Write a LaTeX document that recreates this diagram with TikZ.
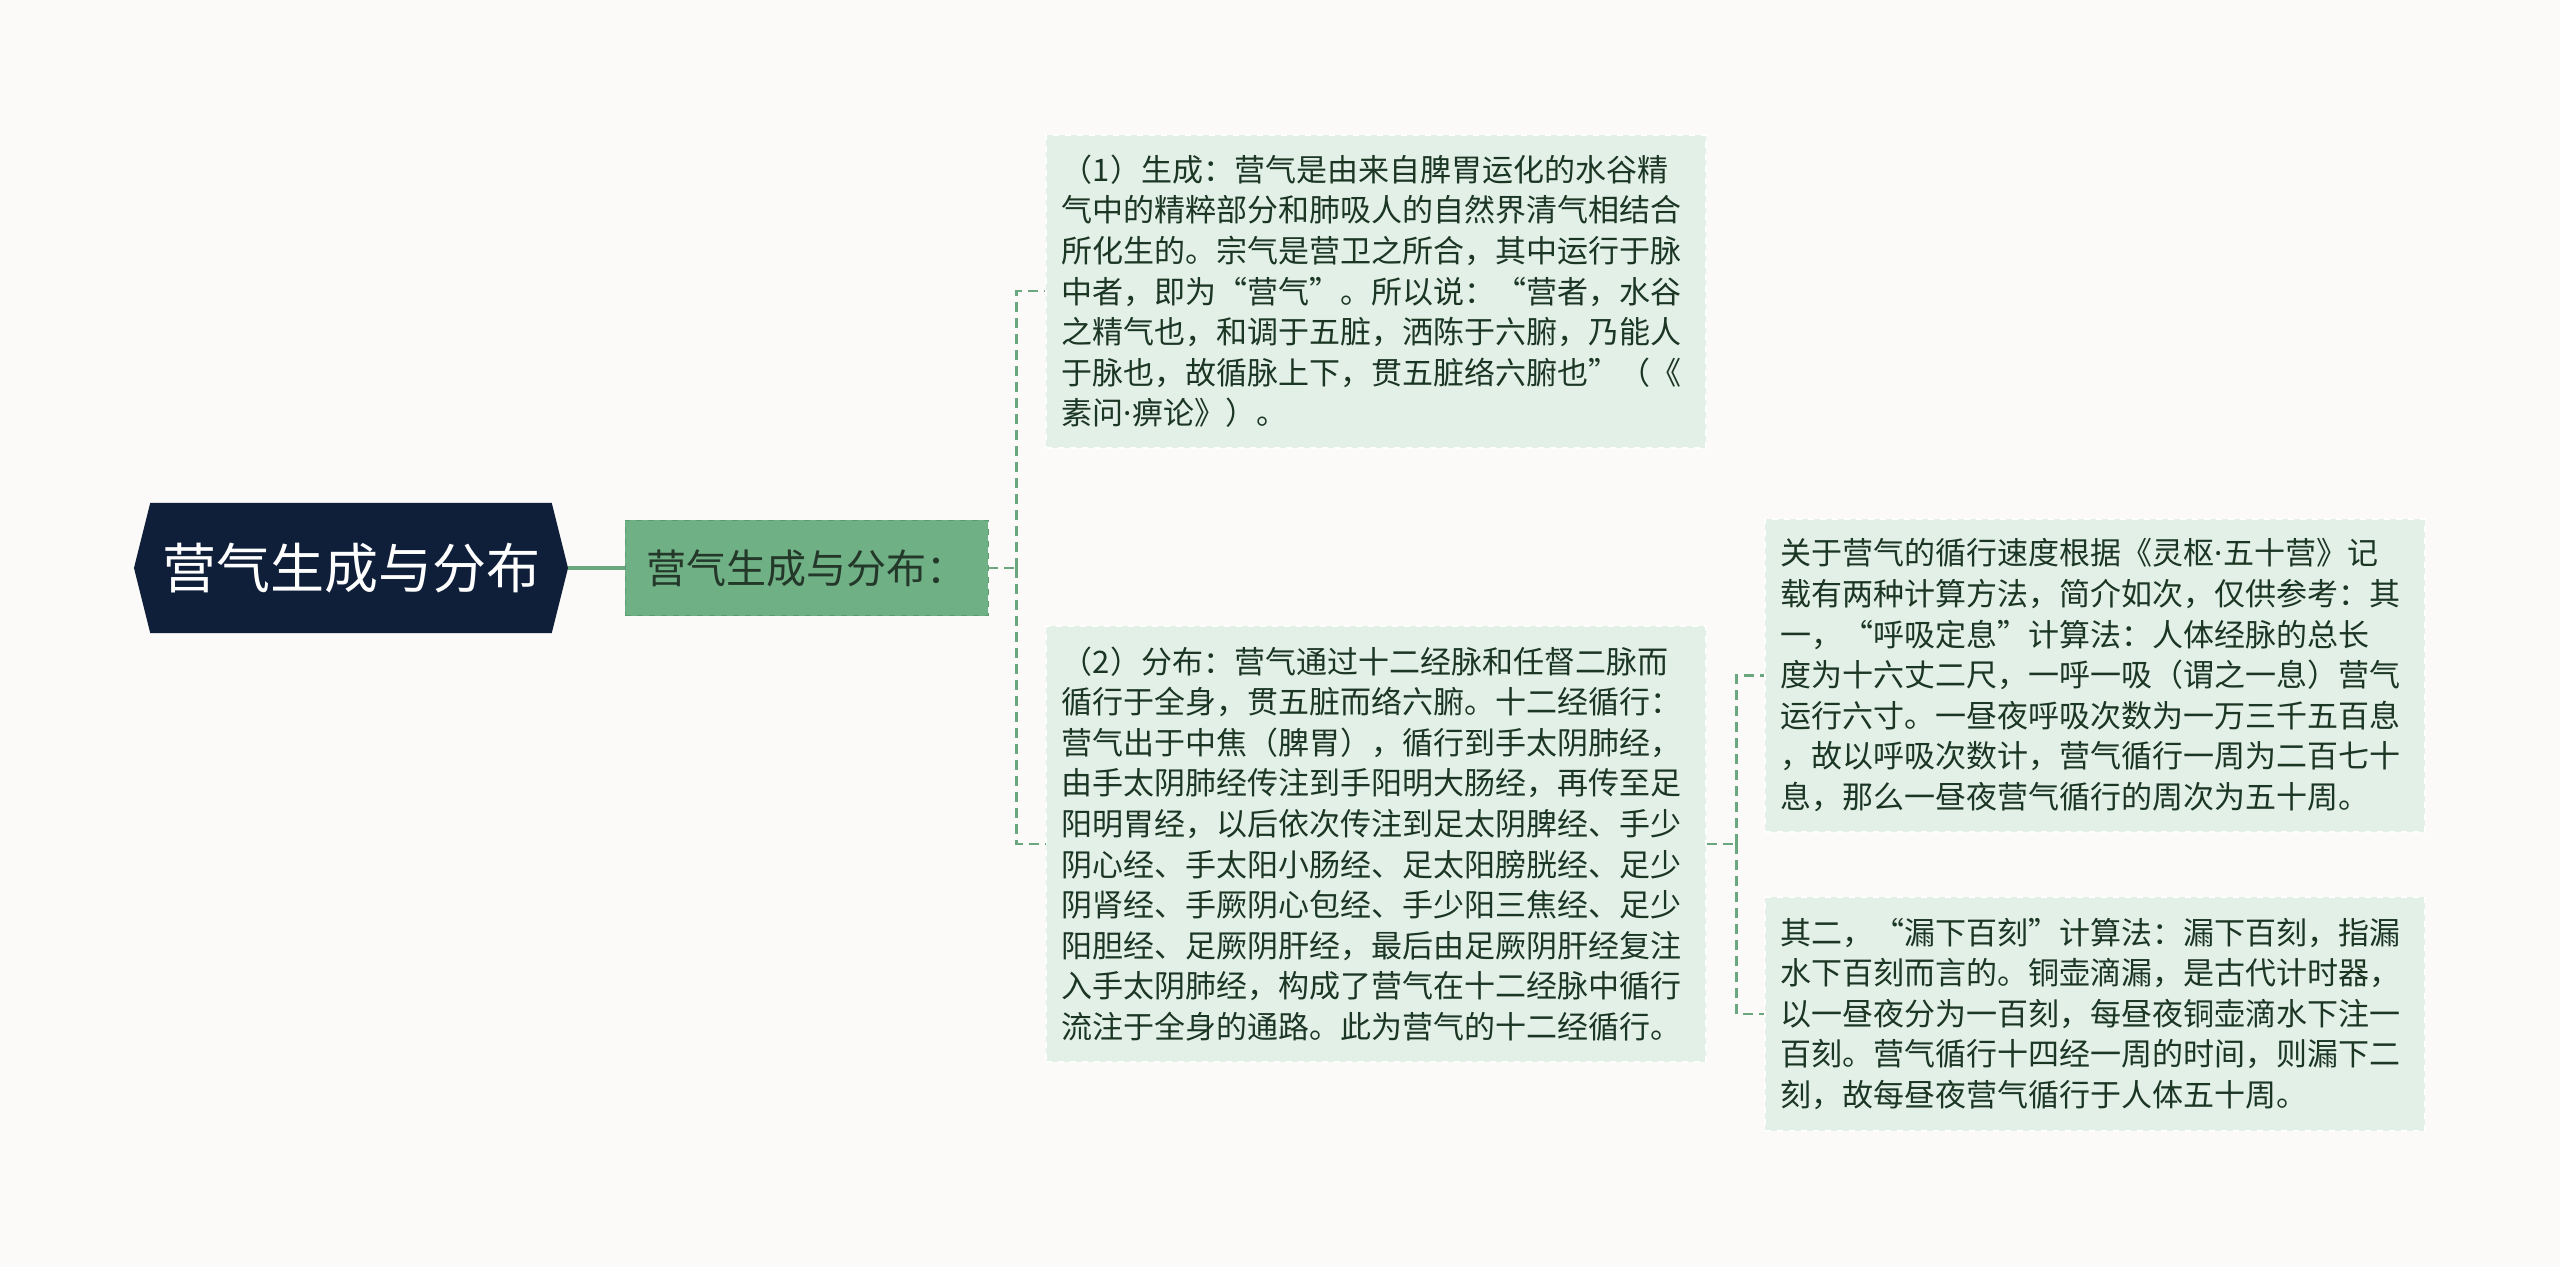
\documentclass[tikz,border=0pt]{standalone}
\usepackage{fontspec}
\setmainfont{Noto Sans CJK SC}
\newfontfamily\narrowdot{Noto Sans}
\usepackage{tikz}
\usetikzlibrary{calc}
\usetikzlibrary{positioning}
\usetikzlibrary{shapes.symbols}

\definecolor{bgcol}{HTML}{FCFAF9}
\definecolor{rootcol}{HTML}{0F1F3A}
\definecolor{midcol}{HTML}{70B085}
\definecolor{midedge}{HTML}{5C9C70}
\definecolor{midtext}{HTML}{24382A}
\definecolor{leafcol}{HTML}{E3F0E7}
\definecolor{leaftext}{HTML}{1C3624}
\definecolor{linkcol}{HTML}{6AA67E}

\newcommand{\mdot}{{\narrowdot ·}}

\tikzset{
  rootbox/.style={signal, signal to=west and east, signal pointer angle=152,
    fill=rootcol, text=white, minimum width=217pt, minimum height=65pt,
    inner sep=0pt, font=\fontsize{27}{32}\selectfont},
  midbox/.style={fill=midcol, draw=midedge, dashed, text=midtext,
    minimum width=181.5pt, minimum height=47.5pt, inner sep=0pt,
    font=\fontsize{20}{24}\selectfont},
  leaf/.style={anchor=north west, fill=leafcol, draw=white, dashed, line width=0.8pt,
    text=leaftext, align=left, text width=314pt, inner xsep=8pt, inner ysep=0pt,
    font=\fontsize{15.5}{20.3}\selectfont},
  link/.style={draw=linkcol, dash pattern=on 5pt off 3pt, line width=1.2pt}
}

\begin{document}
\begin{tikzpicture}[x=0.5pt,y=-0.5pt]
  \fill[bgcol] (0,0) rectangle (2560,1267);
  \useasboundingbox (0,0) rectangle (2560,1267);

  \node[rootbox] (root) at (351,568) {营气生成与分布};
  \node[midbox] (mid) at (806.5,568) {营气生成与分布：};

  \node[leaf,minimum height=156.5pt] (gen) at (1045,134) {%
    （1）生成：营气是由来自脾胃运化的水谷精\\
    气中的精粹部分和肺吸人的自然界清气相结合\\
    所化生的。宗气是营卫之所合，其中运行于脉\\
    中者，即为“营气”。所以说：“营者，水谷\\
    之精气也，和调于五脏，洒陈于六腑，乃能人\\
    于脉也，故循脉上下，贯五脏络六腑也”（《\\
    素问\mdot 痹论》）。};
  \node[leaf,minimum height=218pt] (dist) at (1045,625) {%
    （2）分布：营气通过十二经脉和任督二脉而\\
    循行于全身，贯五脏而络六腑。十二经循行：\\
    营气出于中焦（脾胃），循行到手太阴肺经，\\
    由手太阴肺经传注到手阳明大肠经，再传至足\\
    阳明胃经，以后依次传注到足太阴脾经、手少\\
    阴心经、手太阳小肠经、足太阳膀胱经、足少\\
    阴肾经、手厥阴心包经、手少阳三焦经、足少\\
    阳胆经、足厥阴肝经，最后由足厥阴肝经复注\\
    入手太阴肺经，构成了营气在十二经脉中循行\\
    流注于全身的通路。此为营气的十二经循行。};
  \node[leaf,minimum height=156.5pt] (speed) at (1764,518) {%
    关于营气的循行速度根据《灵枢\mdot 五十营》记\\
    载有两种计算方法，简介如次，仅供参考：其\\
    一，“呼吸定息”计算法：人体经脉的总长\\
    度为十六丈二尺，一呼一吸（谓之一息）营气\\
    运行六寸。一昼夜呼吸次数为一万三千五百息\\
    ，故以呼吸次数计，营气循行一周为二百七十\\
    息，那么一昼夜营气循行的周次为五十周。};
  \node[leaf,minimum height=117pt] (drip) at (1764,896) {%
    其二，“漏下百刻”计算法：漏下百刻，指漏\\
    水下百刻而言的。铜壶滴漏，是古代计时器，\\
    以一昼夜分为一百刻，每昼夜铜壶滴水下注一\\
    百刻。营气循行十四经一周的时间，则漏下二\\
    刻，故每昼夜营气循行于人体五十周。};

  \draw[link,solid,line width=2pt] (root.east) -- (mid.west);
  \draw[link] (mid.east) -- ++(28,0) coordinate (j1);
  \draw[link] (j1) |- (gen.west);
  \draw[link] (j1) |- (dist.west);
  \draw[link] (dist.east) -- ++(30,0) coordinate (j2);
  \draw[link] (j2) |- (speed.west);
  \draw[link] (j2) |- (drip.west);
\end{tikzpicture}
\end{document}
